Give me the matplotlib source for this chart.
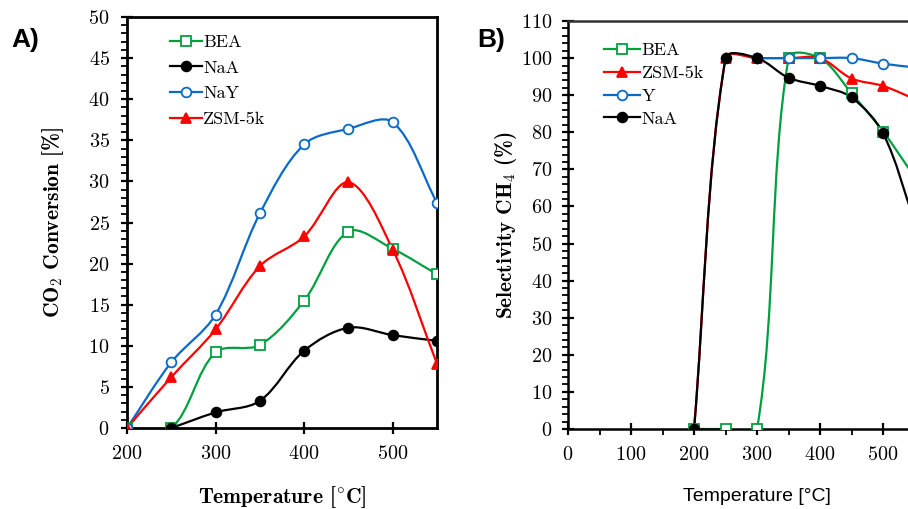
import matplotlib
matplotlib.use("Agg")
import matplotlib.pyplot as plt
import numpy as np
from matplotlib.path import Path
from matplotlib.patches import PathPatch
from matplotlib.lines import Line2D
from matplotlib.ticker import MultipleLocator, FixedLocator

plt.rcParams["font.family"] = ["cmr10", "DejaVu Serif"]
plt.rcParams["mathtext.fontset"] = "cm"
plt.rcParams["axes.formatter.use_mathtext"] = True

# --- data: panel A, CO2 conversion (%) ---
temp_a = [200, 250, 300, 350, 400, 450, 500, 550]
bea_a_x = [200, 250, 300, 350, 400, 450, 500, 550]
bea_a = [0, 0, 9.2, 10.1, 15.5, 23.9, 21.8, 18.7]
naa_a_x = [250, 300, 350, 400, 450, 500, 550]
naa_a = [0, 1.9, 3.3, 9.4, 12.2, 11.3, 10.6]
nay_a = [0, 8.0, 13.8, 26.1, 34.5, 36.4, 37.2, 27.4]
zsm_a = [0, 6.2, 12.0, 19.7, 23.3, 29.9, 21.7, 7.8]

# --- data: panel B, CH4 selectivity (%) ---
bea_b_x = [200, 250, 300, 350, 400, 450, 500, 550]
bea_b = [0, 0, 0, 100, 100, 90.5, 80.2, 68]
zsm_b_x = [200, 250, 300, 350, 400, 450, 500, 550]
zsm_b = [0, 100, 100, 100, 100, 94.5, 92.5, 89]
y_b_x = [300, 350, 400, 450, 500, 550]
y_b = [100, 100, 100, 100, 98.5, 97.5]
naa_b_x = [200, 250, 300, 350, 400, 450, 500, 550]
naa_b = [0, 100, 100, 94.7, 92.5, 89.4, 79.7, 56]

GREEN = "#00a040"
BLUE = "#0a6ac8"
RED = "#ff0000"
BLACK = "#000000"


def smooth_curve(ax, x, y, color):
    # excel-like smoothed line: cubic bezier, tangents weighted by screen distance
    pts = np.column_stack([x, y]).astype(float)
    scr = ax.transData.transform(pts)
    n = len(pts)
    verts = [pts[0]]
    codes = [Path.MOVETO]
    for i in range(n - 1):
        i0, i3 = max(i - 1, 0), min(i + 2, n - 1)
        p0, p1, p2, p3 = pts[i0], pts[i], pts[i + 1], pts[i3]
        d01 = np.hypot(*(scr[i] - scr[i0]))
        d12 = np.hypot(*(scr[i + 1] - scr[i]))
        d23 = np.hypot(*(scr[i3] - scr[i + 1]))
        f1 = d12 / (3 * (d01 + d12)) if d01 + d12 > 0 else 0
        f2 = d12 / (3 * (d12 + d23)) if d12 + d23 > 0 else 0
        c1 = p1 + (p2 - p0) * f1
        c2 = p2 - (p3 - p1) * f2
        verts += [c1, c2, p2]
        codes += [Path.CURVE4] * 3
    ax.add_patch(PathPatch(Path(verts, codes), fill=False, edgecolor=color,
                           lw=1.6, zorder=2))


def series(ax, x, y, color, marker, mfc, ms):
    smooth_curve(ax, x, y, color)
    ax.plot(x, y, ls="none", marker=marker, color=color, mfc=mfc,
            mec=color, ms=ms, mew=1.3, zorder=3)
    return Line2D([], [], color=color, lw=1.6, marker=marker, mfc=mfc,
                  mec=color, ms=ms, mew=1.3)


fig = plt.figure(figsize=(9.08, 5.09), dpi=100)

# ---------- panel A ----------
ax1 = fig.add_axes([0.1399, 0.1591, 0.3414, 0.8075])
ax1.set_xlim(200, 550)
ax1.set_ylim(0, 50)
h_bea = series(ax1, bea_a_x, bea_a, GREEN, "s", "white", 7)
h_naa = series(ax1, naa_a_x, naa_a, BLACK, "o", BLACK, 7)
h_nay = series(ax1, temp_a, nay_a, BLUE, "o", "white", 7)
h_zsm = series(ax1, temp_a, zsm_a, RED, "^", RED, 7)
ax1.xaxis.set_major_locator(MultipleLocator(100))
ax1.yaxis.set_major_locator(MultipleLocator(5))
ax1.yaxis.set_minor_locator(MultipleLocator(1))
ax1.tick_params(which="major", direction="inout", length=9, width=1.6,
                labelsize=14.5)
ax1.tick_params(which="minor", direction="out", length=4, width=1.3)
ax1.tick_params(axis="x", pad=8)
ax1.tick_params(axis="y", pad=8)
for s in ax1.spines.values():
    s.set_linewidth(2)
ax1.set_ylabel(r"CO$_\mathbf{2}$ Conversion [%]", family="cmb10",
               fontsize=15.5, labelpad=16)
ax1.set_xlabel(r"Temperature [$^{\circ}$C]", family="cmb10", fontsize=15.5,
               labelpad=15)
ax1.legend([h_bea, h_naa, h_nay, h_zsm], ["BEA", "NaA", "NaY", "ZSM-5k"],
           loc="upper left", bbox_to_anchor=(0.115, 0.975), frameon=False,
           fontsize=13, handlelength=1.8, handletextpad=0.05,
           labelspacing=0.55, borderaxespad=0)
fig.text(0.013, 0.921, "A)", family="Liberation Sans", fontweight="bold",
         fontsize=19, va="center")

# ---------- panel B ----------
ax2 = fig.add_axes([0.6256, 0.1572, 0.4163, 0.8015])
ax2.set_xlim(0, 600)
ax2.set_ylim(0, 110)
h_bea2 = series(ax2, bea_b_x, bea_b, GREEN, "s", "white", 7)
h_zsm2 = series(ax2, zsm_b_x, zsm_b, RED, "^", RED, 7)
h_y2 = series(ax2, y_b_x, y_b, BLUE, "o", "white", 7)
h_naa2 = series(ax2, naa_b_x, naa_b, BLACK, "o", BLACK, 7)
ax2.xaxis.set_major_locator(FixedLocator([0, 100, 200, 300, 400, 500]))
ax2.xaxis.set_minor_locator(FixedLocator([50, 150, 250, 350, 450, 550]))
ax2.yaxis.set_major_locator(MultipleLocator(10))
ax2.yaxis.set_minor_locator(MultipleLocator(2))
ax2.tick_params(which="major", direction="inout", length=9, width=1.6,
                labelsize=14.5)
ax2.tick_params(which="minor", direction="out", length=4, width=1.3)
ax2.tick_params(axis="x", pad=8)
ax2.tick_params(axis="y", pad=7)
for s in ax2.spines.values():
    s.set_linewidth(1.8)
ax2.spines["top"].set_color("#333333")
ax2.set_ylabel(r"Selectivity CH$_\mathbf{4}$ (%)", family="cmb10",
               fontsize=15.3, labelpad=1)
ax2.set_xlabel("Temperature [°C]", family="Liberation Sans", fontsize=14,
               labelpad=17)
ax2.legend([h_bea2, h_zsm2, h_y2, h_naa2], ["BEA", "ZSM-5k", "Y", "NaA"],
           loc="upper left", bbox_to_anchor=(0.075, 0.965), frameon=False,
           fontsize=13, handlelength=2.0, handletextpad=0.1,
           labelspacing=0.4, borderaxespad=0)
fig.text(0.526, 0.921, "B)", family="Liberation Sans", fontweight="bold",
         fontsize=19, va="center")

fig.savefig("out.png", dpi=100)
